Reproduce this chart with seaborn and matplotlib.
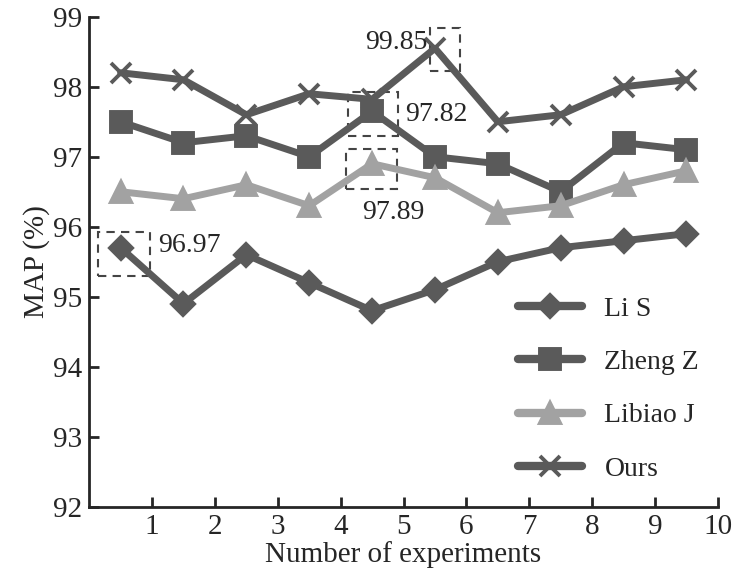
import pandas as pd
import seaborn as sns
import matplotlib.pyplot as plt
from matplotlib.patches import Rectangle

# values
experiments = [0.5, 1.5, 2.5, 3.5, 4.5, 5.5, 6.5, 7.5, 8.5, 9.5]
li_s = [95.7, 94.9, 95.6, 95.2, 94.8, 95.1, 95.5, 95.7, 95.8, 95.9]
zheng_z = [97.5, 97.2, 97.3, 97.0, 97.65, 97.0, 96.9, 96.5, 97.2, 97.1]
libiao_j = [96.5, 96.4, 96.6, 96.3, 96.9, 96.7, 96.2, 96.3, 96.6, 96.8]
ours = [98.2, 98.1, 97.6, 97.9, 97.82, 98.55, 97.5, 97.6, 98.0, 98.1]
methods = ['Li S', 'Zheng Z', 'Libiao J', 'Ours']
x_ticks = [1, 2, 3, 4, 5, 6, 7, 8, 9, 10]
y_ticks = [92, 93, 94, 95, 96, 97, 98, 99]

df = pd.concat([
    pd.DataFrame({'exp': experiments, 'MAP': vals, 'method': name})
    for name, vals in zip(methods, [li_s, zheng_z, libiao_j, ours])
])

sns.set_style('ticks')
plt.rcParams['font.family'] = ['Liberation Serif', 'DejaVu Serif']

fig = plt.figure(figsize=(7.37, 5.79), dpi=100)
ax = fig.add_axes([0.121, 0.125, 0.853, 0.846])

dark = '#5a5a5a'
light = '#a2a2a2'
colors = {'Li S': dark, 'Zheng Z': dark, 'Libiao J': light, 'Ours': dark}
markers = {'Li S': 'D', 'Zheng Z': 's', 'Libiao J': '^', 'Ours': 'x'}
msizes = {'Li S': 11, 'Zheng Z': 14, 'Libiao J': 14, 'Ours': 15}

for name in methods:
    sub = df[df['method'] == name]
    sns.lineplot(data=sub, x='exp', y='MAP', color=colors[name], label=name,
                 marker=markers[name], markersize=msizes[name],
                 markeredgewidth=2.8, markeredgecolor=colors[name],
                 linewidth=5, solid_capstyle='round', ax=ax)

# dashed highlight boxes
box_kw = dict(fill=False, linestyle=(0, (4, 3)), edgecolor='#444444', linewidth=1.5)
ax.add_patch(Rectangle((0.14, 95.3), 0.83, 0.62, **box_kw))
ax.add_patch(Rectangle((4.12, 97.3), 0.8, 0.63, **box_kw))
ax.add_patch(Rectangle((4.09, 96.54), 0.8, 0.57, **box_kw))
ax.add_patch(Rectangle((5.42, 98.22), 0.48, 0.62, **box_kw))

ax.text(1.1, 95.73, '96.97', fontsize=20, va='center', ha='left')
ax.text(5.02, 97.6, '97.82', fontsize=20, va='center', ha='left')
ax.text(4.83, 96.2, '97.89', fontsize=20, va='center', ha='center')
ax.text(5.38, 98.63, '99.85', fontsize=20, va='center', ha='right')

ax.set_xlim(0, 10)
ax.set_ylim(92, 99)
ax.set_xticks(x_ticks)
ax.set_yticks(y_ticks)
ax.tick_params(direction='in', length=7, width=2, labelsize=21, pad=5)
for s in ['left', 'bottom']:
    ax.spines[s].set_linewidth(2)
sns.despine(ax=ax)

ax.set_xlabel('Number of experiments', fontsize=21, labelpad=1)
ax.set_ylabel('MAP (%)', fontsize=21, labelpad=2)

leg = ax.legend(loc='lower right', bbox_to_anchor=(1.01, 0.0), frameon=False,
                fontsize=20, handlelength=2.3, labelspacing=1.0, handletextpad=0.8)
for h in leg.legend_handles:
    h.set_linewidth(6)

fig.savefig('out.png', dpi=100)
